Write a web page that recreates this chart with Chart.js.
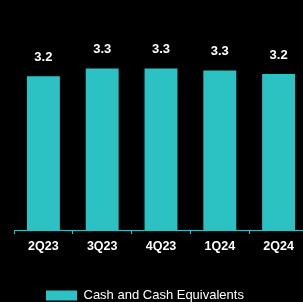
<!DOCTYPE html>
<html>
<head>
<meta charset="utf-8">
<script src="https://cdn.jsdelivr.net/npm/chart.js@4"></script>
<style>
    html, body { margin: 0; padding: 0; background: #000; overflow: hidden; }
    canvas { display: block; }
</style>
</head>
<body>
<canvas id="cashChart" width="308" height="302"></canvas>
<script>
const quarters = ['2Q23', '3Q23', '4Q23', '1Q24', '2Q24'];
const cashValues = [3.18, 3.34, 3.34, 3.30, 3.23];
const seriesName = 'Cash and Cash Equivalents';

const teal = '#2cc1c3';

// writes the rounded value above each bar
const valueLabels = {
    id: 'valueLabels',
    afterDatasetsDraw(chart) {
        const ctx = chart.ctx;
        const meta = chart.getDatasetMeta(0);
        ctx.save();
        ctx.fillStyle = '#fff';
        ctx.font = 'bold 13px "Liberation Sans", Arial, sans-serif';
        ctx.textAlign = 'center';
        ctx.textBaseline = 'middle';
        meta.data.forEach((bar, i) => {
            ctx.fillText(cashValues[i].toFixed(1), bar.x, bar.y - 19);
        });
        ctx.restore();
    }
};

const ctx = document.getElementById('cashChart').getContext('2d');
const cashChart = new Chart(ctx, {
    type: 'bar',
    data: {
        labels: quarters,
        datasets: [{
            label: seriesName,
            data: cashValues,
            backgroundColor: teal,
            borderWidth: 0,
            categoryPercentage: 1,
            barPercentage: 0.56
        }]
    },
    options: {
        responsive: false,
        animation: false,
        layout: {
            padding: { left: 14, right: 0, top: 0, bottom: 0 }
        },
        plugins: {
            legend: {
                position: 'bottom',
                align: 'start',
                maxHeight: 45,
                labels: {
                    color: '#fff',
                    boxWidth: 31,
                    boxHeight: 10,
                    padding: 32,
                    font: { family: '"Liberation Sans", Arial, sans-serif', size: 13 }
                }
            },
            tooltip: { enabled: false }
        },
        scales: {
            x: {
                afterFit(scale) {
                    scale.height = 27;
                },
                border: { display: true, color: teal, width: 1 },
                grid: {
                    drawOnChartArea: false,
                    drawTicks: true,
                    tickLength: 4,
                    color: teal
                },
                ticks: {
                    color: '#fff',
                    padding: 5,
                    font: { family: '"Liberation Sans", Arial, sans-serif', size: 12.5, weight: 'bold' }
                }
            },
            y: {
                display: false,
                min: 0,
                max: 4.76
            }
        }
    },
    plugins: [valueLabels]
});
</script>
</body>
</html>
